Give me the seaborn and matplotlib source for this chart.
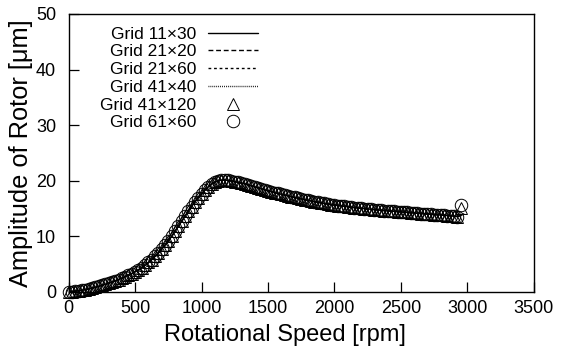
import matplotlib
matplotlib.use("Agg")
import matplotlib.pyplot as plt
import seaborn as sns
import pandas as pd

# Rotor response vs. rotational speed, sampled every 25 rpm
rpm = list(range(0, 2950, 25))
amplitude = [
    0.00, 0.05, 0.12, 0.20, 0.30, 0.41, 0.53, 0.66, 0.81, 0.98,
    1.16, 1.35, 1.55, 1.76, 1.98, 2.21, 2.46, 2.72, 3.00, 3.30,
    3.62, 3.97, 4.35, 4.76, 5.30, 5.80, 6.40, 7.00, 7.70, 8.40,
    9.20, 10.00, 10.90, 11.80, 12.70, 13.60, 14.50, 15.35, 16.20, 16.95,
    17.60, 18.30, 18.90, 19.40, 19.75, 20.00, 20.12, 20.12, 20.05, 19.95,
    19.83, 19.70, 19.56, 19.44, 19.26, 19.07, 18.89, 18.71, 18.54, 18.37,
    18.20, 18.04, 17.88, 17.72, 17.57, 17.42, 17.27, 17.13, 16.99, 16.85,
    16.72, 16.59, 16.47, 16.35, 16.23, 16.12, 16.01, 15.91, 15.81, 15.71,
    15.62, 15.54, 15.46, 15.38, 15.31, 15.24, 15.17, 15.10, 15.04, 14.98,
    14.92, 14.86, 14.80, 14.75, 14.70, 14.64, 14.59, 14.54, 14.49, 14.44,
    14.39, 14.34, 14.29, 14.24, 14.20, 14.15, 14.10, 14.06, 14.01, 13.97,
    13.92, 13.88, 13.83, 13.79, 13.74, 13.69, 13.63, 13.56,
]

# Last computed point of each grid run
grid_labels = ["Grid 11\u00d730", "Grid 21\u00d720", "Grid 21\u00d760",
               "Grid 41\u00d740", "Grid 41\u00d7120", "Grid 61\u00d760"]
end_rpm = [2975, 2975, 2975, 2975, 2950, 2950]
end_amplitude = [14.0, 14.0, 14.0, 14.0, 15.1, 15.7]

x_ticks = [0, 500, 1000, 1500, 2000, 2500, 3000, 3500]
y_ticks = [0, 10, 20, 30, 40, 50]

sns.set_style("white")
plt.rcParams["font.family"] = ["Liberation Sans", "DejaVu Sans"]
plt.rcParams["text.color"] = "black"
plt.rcParams["axes.labelcolor"] = "black"

fig = plt.figure(figsize=(5.7, 3.5), dpi=100)
ax = fig.add_axes([0.1205, 0.166, 0.8158, 0.794])

line_styles = ["-", (0, (3.5, 2.0)), (0, (2.0, 2.0)), (0, (0.6, 0.8))]
markers = ["^", "o"]

frames = []
for i, lab in enumerate(grid_labels):
    df = pd.DataFrame({"rpm": rpm + [end_rpm[i]],
                       "amp": amplitude + [end_amplitude[i]]})
    frames.append(df)

for i in range(4):
    sns.lineplot(data=frames[i], x="rpm", y="amp", ax=ax, color="black",
                 linewidth=1.0, linestyle=line_styles[i], label=grid_labels[i],
                 sort=False, estimator=None)

for j, mk in enumerate(markers):
    i = 4 + j
    sns.lineplot(data=frames[i], x="rpm", y="amp", ax=ax, color="black",
                 linestyle="none", marker=mk, markersize=9,
                 markerfacecolor="none", markeredgecolor="black",
                 markeredgewidth=0.7, label=grid_labels[i],
                 sort=False, estimator=None, clip_on=False)

ax.set_xlim(0, 3500)
ax.set_ylim(0, 50)
ax.set_xticks(x_ticks)
ax.set_yticks(y_ticks)
ax.tick_params(axis="both", direction="in", length=7, width=0.9,
               labelsize=13, colors="black", pad=6,
               bottom=True, left=True, top=False, right=False)
ax.tick_params(axis="y", pad=9)
for s in ax.spines.values():
    s.set_visible(True)
    s.set_color("black")
    s.set_linewidth(1.0)

ax.set_xlabel("Rotational Speed [rpm]", fontsize=17, color="black")
ax.set_ylabel("Amplitude of Rotor [\u03bcm]", fontsize=18.3, color="black")
ax.xaxis.set_label_coords(0.466, -0.115)
ax.yaxis.set_label_coords(-0.077, 0.5)

leg = ax.legend(loc="upper left", bbox_to_anchor=(0.067, 0.955),
                borderaxespad=0, borderpad=0, frameon=False,
                markerfirst=False, fontsize=12.5, labelspacing=0.15,
                handlelength=2.9, handletextpad=0.7, numpoints=1)

fig.savefig("out.png", dpi=100)
